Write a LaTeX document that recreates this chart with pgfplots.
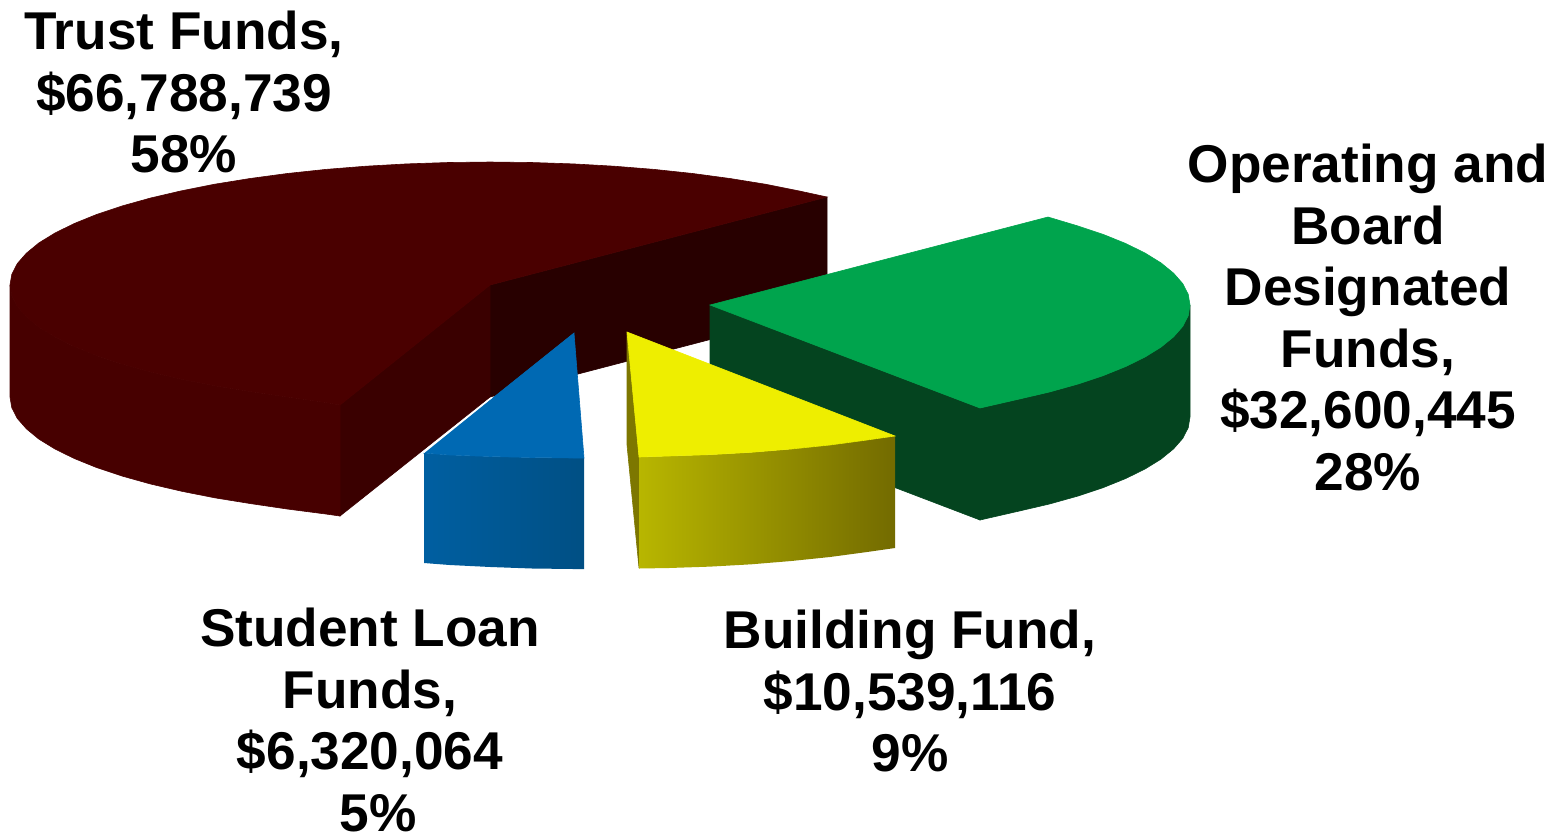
\documentclass[border=0pt]{standalone}
\usepackage{fontspec}
\setmainfont{Liberation Sans}
\usepackage{pgfplots}
\pgfplotsset{compat=1.18}

\definecolor{maroontop}{HTML}{4A0000}
\definecolor{maroonside}{HTML}{470000}
\definecolor{marooninner}{HTML}{3A0000}
\definecolor{maroonback}{HTML}{280000}
\definecolor{greentop}{HTML}{00A44D}
\definecolor{greenside}{HTML}{04441F}
\definecolor{yellowtop}{HTML}{EEEE00}
\definecolor{yellowleft}{HTML}{B8B600}
\definecolor{yellowright}{HTML}{736B00}
\definecolor{yellowedge}{HTML}{7D7700}
\definecolor{bluetop}{HTML}{0069B3}
\definecolor{blueleft}{HTML}{005FA1}
\definecolor{blueright}{HTML}{004F84}

\tikzset{
    solid face/.style={draw=#1, fill=#1, line width=0.3pt},
    lab/.style={anchor=north, inner sep=0pt, align=center, text=black,
        font=\bfseries\fontsize{26.6}{30.75}\selectfont},
}
\pgfplotsset{every axis plot/.append style={no markers, forget plot}}

\begin{document}
\begin{tikzpicture}
\path[use as bounding box] (0,0) rectangle (778.5pt,418.5pt);
\begin{axis}[
    at={(0,0)}, anchor=south west,
    scale only axis, width=778.5pt, height=418.5pt,
    xmin=0, xmax=1557, ymin=0, ymax=837,
    y dir=reverse,
    hide axis, clip=false,
]

% Trust Funds
\addplot[solid face=maroonback] coordinates {
    (490,285) (827,197) (827,309) (490,397)
} -- cycle;
\addplot[solid face=marooninner] coordinates {
    (340,405) (490,285) (490,397) (340,516)
} -- cycle;
\addplot[solid face=maroonside] coordinates {
    (10,285) (11.8,295.7) (17.3,306.4) (26.4,316.8) (38.9,327.1) (55,337)
    (74.3,346.5) (96.8,355.6) (122.3,364.1) (150.6,372) (181.5,379.2) (214.7,385.8)
    (250,391.5) (287.2,397) (325.8,402.5) (340,405)
    (340,516) (325.8,514) (287.2,509) (250,503.5) (214.7,497.8) (181.5,491.2)
    (150.6,484) (122.3,476.1) (96.8,467.6) (74.3,458.5) (55,449) (38.9,439.1)
    (26.4,428.8) (17.3,418.4) (11.8,407.7) (10,397)
} -- cycle;
\addplot[solid face=maroontop] coordinates {
    (490,285) (827,197) (798.5,190.8) (765.3,184.2) (730,178.5) (692.8,173.5)
    (654.2,169.4) (614.2,166.2) (573.4,163.9) (531.8,162.5) (490,162) (448.2,162.5)
    (406.6,163.9) (365.8,166.2) (325.8,169.4) (287.2,173.5) (250,178.5) (214.7,184.2)
    (181.5,190.8) (150.6,198) (122.3,205.9) (96.8,214.4) (74.3,223.5) (55,233)
    (38.9,242.9) (26.4,253.2) (17.3,263.6) (11.8,274.3) (10,285) (11.8,295.7)
    (17.3,306.4) (26.4,316.8) (38.9,327.1) (55,337) (74.3,346.5) (96.8,355.6)
    (122.3,364.1) (150.6,372) (181.5,379.2) (214.7,385.8) (250,391.5) (287.2,397)
    (325.8,402.5) (340,405)
} -- cycle;

% Operating and Board Designated Funds
\addplot[solid face=greenside] coordinates {
    (710,305) (980,408) (980,520) (710,417)
} -- cycle;
\addplot[solid face=greenside] coordinates {
    (980,408) (1018.5,399.2) (1049.4,392) (1077.7,384.1) (1103.2,375.6) (1125.7,366.5)
    (1145,357) (1161,347.1) (1173.6,336.8) (1182.7,326.4) (1188.2,315.7) (1190,305)
    (1190,417) (1188.2,427.7) (1182.7,438.4) (1173.6,448.8) (1161,459.1) (1145,469)
    (1125.7,478.5) (1103.2,487.6) (1077.7,496.1) (1049.4,504) (1018.5,511.2) (980,520)
} -- cycle;
\addplot[solid face=greentop] coordinates {
    (710,305) (1048,217) (1077.7,225.9) (1103.2,234.4) (1125.7,243.5) (1145,253)
    (1161,262.9) (1173.6,273.2) (1182.7,283.6) (1188.2,294.3) (1190,305) (1188.2,315.7)
    (1182.7,326.4) (1173.6,336.8) (1161,347.1) (1145,357) (1125.7,366.5) (1103.2,375.6)
    (1077.7,384.1) (1049.4,392) (1018.5,399.2) (980,408)
} -- cycle;

% Building Fund
\addplot[solid face=yellowedge] coordinates {
    (627,332) (639,457) (639,568) (627,445)
} -- cycle;
\addplot[draw=none, left color=yellowleft, right color=yellowright] coordinates {
    (639,457) (668.8,456) (710.4,454.6) (751.2,452.3) (791.2,449) (829.9,445)
    (867,440) (895,436) (895,548) (867,552) (829.9,557) (791.2,561)
    (751.2,564.3) (710.4,566.6) (668.8,568) (639,568.5)
} -- cycle;
\addplot[solid face=yellowtop] coordinates {
    (627,332) (895,436) (867,440) (829.9,445) (791.2,449) (751.2,452.3)
    (710.4,454.6) (668.8,456) (639,457)
} -- cycle;

% Student Loan Funds
\addplot[draw=none, left color=blueleft, right color=blueright] coordinates {
    (424,453) (449.8,455) (490.6,456.5) (532.2,457.5) (574,458) (584,458)
    (584,569) (574,569) (532.2,568.5) (490.6,567) (449.8,565) (424,563)
} -- cycle;
\addplot[solid face=bluetop] coordinates {
    (574,333) (584,458) (574,458) (532.2,457.5) (490.6,456.5) (449.8,455) (424,453)
} -- cycle;
\addplot[draw=white, line width=0.5pt] coordinates {(424,452.5) (492,397.5)};

\node[lab] at (axis cs:184,11) {Trust Funds,\\\$66,788,739\\58\%};
\node[lab] at (axis cs:1368,144) {Operating and\\Board\\Designated\\Funds,\\\$32,600,445\\28\%};
\node[lab] at (axis cs:370,608) {Student Loan\\Funds,\\\$6,320,064\\\hspace*{8pt}5\%};
\node[lab] at (axis cs:910,610) {Building Fund,\\\$10,539,116\\9\%};

\end{axis}
\end{tikzpicture}
\end{document}
